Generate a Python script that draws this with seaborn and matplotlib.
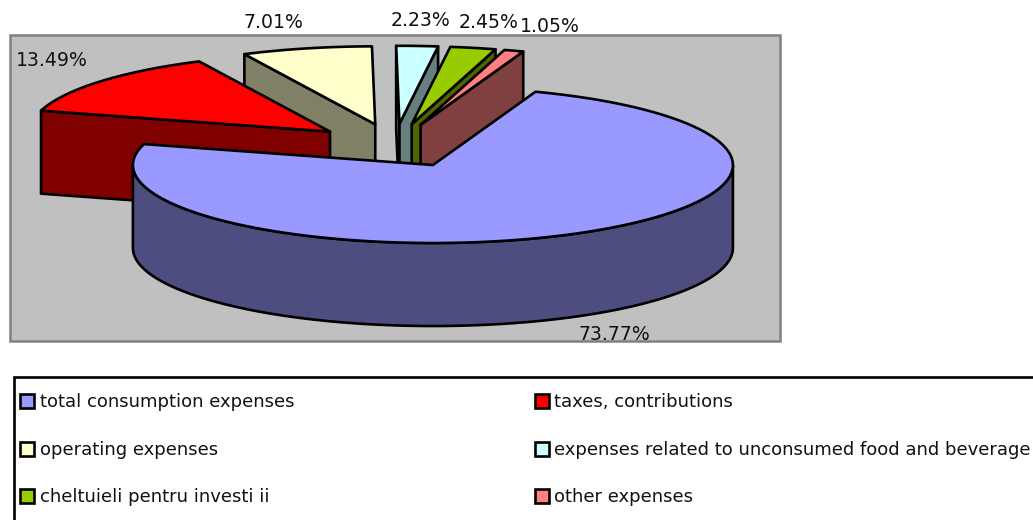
import numpy as np
import matplotlib
matplotlib.use("Agg")
import matplotlib.pyplot as plt
from matplotlib.patches import Polygon, Rectangle
import seaborn as sns

categories = [
    "total consumption expenses",
    "taxes, contributions",
    "operating expenses",
    "expenses related to unconsumed food and beverage",
    "cheltuieli pentru investi ii",
    "other expenses",
]
shares = [73.77, 13.49, 7.01, 2.23, 2.45, 1.05]
hex_colors = ["#9999FF", "#FF0000", "#FFFFCC", "#CCFFFF", "#99CC00", "#FF8080"]
share_labels = ["73.77%", "13.49%", "7.01%", "2.23%", "2.45%", "1.05%"]

# pie geometry in pixels
CX, CY = 394.5, 145.6
RX, RY = 300.0, 78.0
DEPTH = 83.0
EXPLODE = 0.28
START = 20.0

label_pos = [(614, 335), (52, 60), (273, 23), (420, 21), (489, 22), (550, 26)]

sns.set_theme(style="white")
plt.rcParams["font.family"] = ["DejaVu Sans"]
palette = sns.color_palette(hex_colors)
LW = 1.9

fig = plt.figure(figsize=(10.33, 5.2), dpi=100)
ax = fig.add_axes([0, 0, 1, 1])
ax.set_xlim(0, 1033)
ax.set_ylim(520, 0)
ax.axis("off")

ax.add_patch(Rectangle((9.5, 34.5), 770.5, 306, facecolor="#C0C0C0", edgecolor="#808080", lw=1.8, zorder=1))


def rim(c, deg):
    t = np.radians(deg)
    return np.column_stack([c[0] + RX * np.sin(t), c[1] - RY * np.cos(t)])


# clockwise from START
spans = np.array(shares) / sum(shares) * 360
ends = START + np.cumsum(spans)
starts = ends - spans
z = 2


def poly(pts, color):
    global z
    ax.add_patch(Polygon(pts, closed=True, facecolor=color, edgecolor="black", lw=LW, joinstyle="round", zorder=z))
    z += 1


def wall(c, deg, color):
    p = rim(c, deg)[0]
    poly([c, p, (p[0], p[1] + DEPTH), (c[0], c[1] + DEPTH)], color)


# back slices first, big slice last so it hides the others
for i in [3, 4, 5, 2, 1, 0]:
    a0, a1 = starts[i], ends[i]
    mid = np.radians((a0 + a1) / 2)
    c = (CX + EXPLODE * RX * np.sin(mid), CY - EXPLODE * RY * np.cos(mid))
    dark = tuple(v * 0.5 for v in palette[i])
    if i in (1, 2, 3):
        wall(c, a0, dark)
    if i in (3, 4, 5):
        wall(c, a1, dark)
    if i == 0:
        # outer rim only on the front half
        arc = rim(c, np.linspace(90, 270, 120))
        poly(np.vstack([arc, arc[::-1] + [0, DEPTH]]), dark)
    arc = rim(c, np.linspace(a0, a1, 120))
    poly(np.vstack([[c], arc]), palette[i])

for txt, (x, y) in zip(share_labels, label_pos):
    ax.text(x, y, txt, ha="center", va="center", fontsize=13.6, color="#111111", zorder=50)

# legend box runs off the canvas like the original
ax.add_patch(Rectangle((14, 377), 1040, 160, facecolor="white", edgecolor="black", lw=LW, zorder=30))
rows = [401, 449, 496]
cols = [20, 535]
for i, name in enumerate(categories):
    x = cols[i % 2]
    y = rows[i // 2]
    ax.add_patch(Rectangle((x, y - 7), 14, 14, facecolor=palette[i], edgecolor="black", lw=LW, zorder=31))
    ax.text(x + 19.5, y + 1, name, ha="left", va="center", fontsize=13.0, color="#111111", zorder=32)

fig.savefig("out.png", dpi=100)
